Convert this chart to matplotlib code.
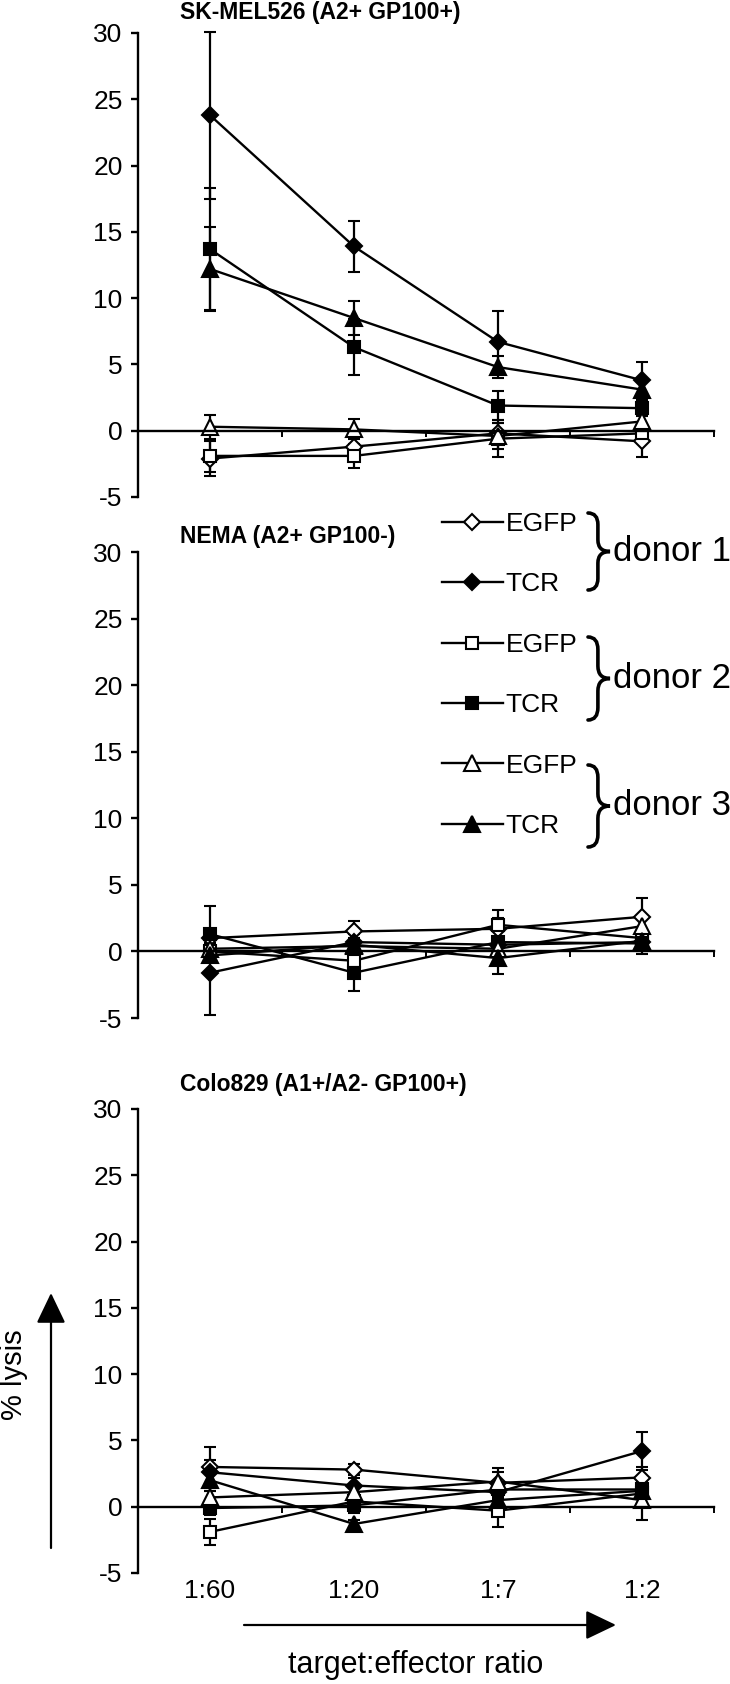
import numpy as np
import matplotlib
matplotlib.use('Agg')
import matplotlib.pyplot as plt
from matplotlib.path import Path
from matplotlib.patches import PathPatch, FancyArrowPatch
from matplotlib.lines import Line2D

plt.rcParams['font.family'] = ['Liberation Sans', 'DejaVu Sans']
plt.rcParams['axes.unicode_minus'] = False

ratios = ['1:60', '1:20', '1:7', '1:2']
titles = ['SK-MEL526 (A2+ GP100+)', 'NEMA (A2+ GP100-)', 'Colo829 (A1+/A2- GP100+)']
series_labels = ['EGFP', 'TCR', 'EGFP', 'TCR', 'EGFP', 'TCR']
donors = ['donor 1', 'donor 2', 'donor 3']

# SK-MEL526 (A2+ GP100+)
skmel_egfp_d1 = [-2.1, -1.2, -0.2, -0.8]
skmel_egfp_d1_err = [1.3, 0.8, 0.8, 1.2]
skmel_tcr_d1 = [23.8, 13.9, 6.7, 3.8]
skmel_tcr_d1_err = [6.3, 1.9, 2.3, 1.4]
skmel_egfp_d2 = [-1.9, -1.9, -0.6, -0.2]
skmel_egfp_d2_err = [1.2, 0.9, 1.4, 0.6]
skmel_tcr_d2 = [13.7, 6.3, 1.9, 1.7]
skmel_tcr_d2_err = [4.6, 2.1, 1.1, 0.6]
skmel_egfp_d3 = [0.3, 0.1, -0.4, 0.7]
skmel_egfp_d3_err = [0.9, 0.75, 1.0, 0.6]
skmel_tcr_d3 = [12.2, 8.5, 4.8, 3.1]
skmel_tcr_d3_err = [3.2, 1.3, 0.8, 0.9]

# NEMA (A2+ GP100-)
nema_egfp_d1 = [1.0, 1.5, 1.7, 2.6]
nema_egfp_d1_err = [0.5, 0.8, 0.8, 1.4]
nema_tcr_d1 = [-1.6, 0.7, 0.5, 0.7]
nema_tcr_d1_err = [3.2, 0.6, 0.6, 0.6]
nema_egfp_d2 = [0.0, -0.7, 2.0, 1.0]
nema_egfp_d2_err = [0.5, 0.6, 1.1, 0.6]
nema_tcr_d2 = [1.3, -1.6, 0.7, 0.6]
nema_tcr_d2_err = [2.1, 1.4, 0.8, 0.8]
nema_egfp_d3 = [0.2, 0.4, 0.2, 1.9]
nema_egfp_d3_err = [0.4, 0.5, 0.6, 0.6]
nema_tcr_d3 = [-0.3, 0.5, -0.5, 0.8]
nema_tcr_d3_err = [0.5, 0.5, 1.2, 0.8]

# Colo829 (A1+/A2- GP100+)
colo_egfp_d1 = [3.0, 2.8, 1.8, 2.2]
colo_egfp_d1_err = [1.5, 0.4, 0.8, 0.8]
colo_tcr_d1 = [2.6, 1.6, 1.1, 4.2]
colo_tcr_d1_err = [0.9, 0.6, 0.5, 1.4]
colo_egfp_d2 = [-1.9, 0.4, -0.3, 1.0]
colo_egfp_d2_err = [1.0, 0.5, 1.2, 0.8]
colo_tcr_d2 = [-0.1, 0.1, 1.3, 1.3]
colo_tcr_d2_err = [0.5, 0.6, 0.6, 0.6]
colo_egfp_d3 = [0.7, 1.1, 1.9, 0.5]
colo_egfp_d3_err = [0.5, 0.5, 1.0, 1.5]
colo_tcr_d3 = [2.0, -1.3, 0.5, 1.2]
colo_tcr_d3_err = [0.8, 0.3, 0.5, 0.6]

panels = [
    ([skmel_egfp_d1, skmel_tcr_d1, skmel_egfp_d2, skmel_tcr_d2, skmel_egfp_d3, skmel_tcr_d3],
     [skmel_egfp_d1_err, skmel_tcr_d1_err, skmel_egfp_d2_err, skmel_tcr_d2_err, skmel_egfp_d3_err, skmel_tcr_d3_err]),
    ([nema_egfp_d1, nema_tcr_d1, nema_egfp_d2, nema_tcr_d2, nema_egfp_d3, nema_tcr_d3],
     [nema_egfp_d1_err, nema_tcr_d1_err, nema_egfp_d2_err, nema_tcr_d2_err, nema_egfp_d3_err, nema_tcr_d3_err]),
    ([colo_egfp_d1, colo_tcr_d1, colo_egfp_d2, colo_tcr_d2, colo_egfp_d3, colo_tcr_d3],
     [colo_egfp_d1_err, colo_tcr_d1_err, colo_egfp_d2_err, colo_tcr_d2_err, colo_egfp_d3_err, colo_tcr_d3_err]),
]

markers = ['D', 'D', 's', 's', '^', '^']
msizes = [8.5, 8.5, 9, 9, 12, 12]
faces = ['white', 'black'] * 3

W, H = 730, 1684
fig = plt.figure(figsize=(W / 100, H / 100), dpi=100)


def fx(px):
    return px / W


def fy(py):
    return 1 - py / H


# pixel extents of each panel's y axis (top = 30, bottom = -5)
panel_px = [(33, 497), (552, 1018), (1109, 1573)]
title_py = [13, 537, 1085]
ax_left, ax_right = 138, 714

x = np.arange(len(ratios))
axes = []
for i, ((top, bot), (vals, errs)) in enumerate(zip(panel_px, panels)):
    ax = fig.add_axes([fx(ax_left), fy(bot), (ax_right - ax_left) / W, (bot - top) / H])
    for v, e, m, ms, fc in zip(vals, errs, markers, msizes, faces):
        ax.errorbar(x, v, yerr=e, color='black', lw=1.7, marker=m, ms=ms,
                    mfc=fc, mec='black', mew=1.5, capsize=4.5, capthick=1.6,
                    elinewidth=1.6, clip_on=False)
    ax.set_xlim(-0.5, 3.5)
    ax.set_ylim(-5, 30)
    ax.set_yticks(range(-5, 31, 5))
    ax.spines['top'].set_visible(False)
    ax.spines['right'].set_visible(False)
    ax.spines['left'].set_linewidth(1.7)
    ax.spines['bottom'].set_position(('data', 0))
    ax.spines['bottom'].set_linewidth(1.7)
    ax.set_xticks([0.5, 1.5, 2.5, 3.5])
    ax.set_xticklabels([])
    ax.tick_params(axis='x', direction='out', length=4, width=1.4)
    ax.tick_params(axis='y', direction='out', length=5, width=1.7, labelsize=19, pad=6)
    fig.text(fx(180), fy(title_py[i]), titles[i], fontsize=16.5, fontweight='bold',
             ha='left', va='center')
    axes.append(ax)

sec = axes[-1].secondary_xaxis('bottom')
sec.set_xticks(x, ratios)
sec.tick_params(length=0, labelsize=19, pad=4)
sec.spines['bottom'].set_visible(False)

# legend
handles = [Line2D([], [], color='black', lw=1.7, marker=m, ms=ms, mfc=fc, mec='black', mew=1.5)
           for m, ms, fc in zip(markers, msizes, faces)]
fig.legend(handles, series_labels, loc='upper left', bbox_to_anchor=(fx(442), fy(512)),
           frameon=False, fontsize=19, handlelength=2.3, handletextpad=0.12,
           labelspacing=1.38, borderpad=0, borderaxespad=0)


def brace(x0, yt, yb, tip):
    xm = x0 + (tip - x0) * 0.45
    ym = (yt + yb) / 2
    h = yb - yt
    pts = [(x0, yt), (xm, yt), (xm, yt + 0.15 * h), (xm, ym - 0.15 * h),
           (xm, ym), (tip, ym), (xm, ym), (xm, ym + 0.15 * h),
           (xm, yb - 0.15 * h), (xm, yb), (x0, yb)]
    codes = [Path.MOVETO, Path.CURVE3, Path.CURVE3, Path.LINETO,
             Path.CURVE3, Path.CURVE3, Path.CURVE3, Path.CURVE3,
             Path.LINETO, Path.CURVE3, Path.CURVE3]
    path = Path([(fx(a), fy(b)) for a, b in pts], codes)
    fig.add_artist(PathPatch(path, transform=fig.transFigure, fc='none', ec='black',
                             lw=2.6, capstyle='round'))


brace_px = [(513, 590), (637, 720), (765, 847)]
for (yt, yb), name in zip(brace_px, donors):
    brace(588, yt, yb, 610)
    fig.text(fx(613), fy((yt + yb) / 2), name, fontsize=25, ha='left', va='center')

# axis titles with arrows
fig.text(fx(14), fy(1375), '% lysis', rotation=90, fontsize=21, ha='center', va='center')
fig.add_artist(FancyArrowPatch((fx(51), fy(1548)), (fx(51), fy(1293)), transform=fig.transFigure,
                               arrowstyle='-|>,head_length=0.94,head_width=0.45',
                               mutation_scale=20, lw=1.6, color='black',
                               shrinkA=0, shrinkB=0))
fig.text(fx(416), fy(1665), 'target:effector ratio', fontsize=22, ha='center', va='center')
fig.add_artist(FancyArrowPatch((fx(244), fy(1625)), (fx(616), fy(1625)), transform=fig.transFigure,
                               arrowstyle='-|>,head_length=0.94,head_width=0.45',
                               mutation_scale=20, lw=1.6, color='black',
                               shrinkA=0, shrinkB=0))

fig.savefig('out.png', dpi=100)
plt.close(fig)
